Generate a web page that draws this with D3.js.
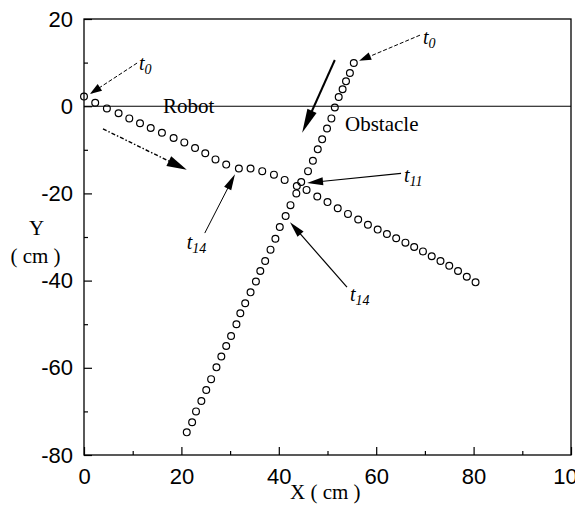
<!DOCTYPE html>
<html>
<head>
<meta charset="utf-8">
<script src="https://cdn.jsdelivr.net/npm/d3@7"></script>
<style>
  html, body { margin: 0; padding: 0; background: #fff; }
  svg { display: block; }
  .tick text { font-family: "Liberation Sans", Arial, sans-serif; font-size: 22px; fill: #000; }
  .serif { font-family: "Liberation Serif", "Times New Roman", serif; fill: #000; }
</style>
</head>
<body>
<svg id="chart" width="575" height="507"></svg>
<script>
// Robot trajectory (cm)
const robotX = [0, 2.3, 4.7, 7.1, 9.3, 11.5, 13.7, 16.0, 18.4, 20.6, 22.8, 24.9, 27.0, 29.2,
  31.8, 34.2, 36.6, 39.0, 41.2, 43.7, 45.7, 47.9, 50.0, 52.1, 54.2, 56.3, 58.3, 60.3, 62.2,
  64.1, 66.0, 67.8, 69.6, 71.4, 73.2, 75.0, 76.8, 78.6, 80.4];
const robotY = [2.2, 0.8, -0.5, -1.6, -2.8, -3.9, -5.0, -6.1, -7.3, -8.3, -9.6, -10.8, -12.2, -13.4,
  -14.3, -14.3, -14.9, -15.7, -16.9, -18.3, -19.2, -20.7, -22.0, -23.4, -24.7, -26.0, -27.2, -28.3, -29.3,
  -30.3, -31.3, -32.3, -33.3, -34.4, -35.5, -36.6, -37.8, -39.1, -40.4];

// Obstacle trajectory (cm)
const obstacleX = [55.4, 54.6, 53.8, 53.1, 52.3, 51.5, 50.8, 49.9, 48.9, 48.0, 47.0, 46.0, 44.6,
  43.6, 42.4, 41.4, 40.2, 39.3, 38.3, 37.2, 36.2, 35.3, 34.2, 33.1, 32.1, 31.3, 30.2, 29.2,
  28.2, 27.2, 26.1, 25.1, 24.1, 23.0, 22.2, 21.1];
const obstacleY = [9.9, 7.6, 5.7, 3.9, 2.1, -0.3, -2.8, -5.1, -7.6, -9.9, -12.5, -14.9, -17.4,
  -20.0, -22.7, -25.2, -27.7, -30.4, -32.9, -35.5, -37.8, -40.2, -42.7, -45.2, -47.5, -50.0, -52.7, -55.0,
  -57.4, -59.9, -62.6, -65.1, -67.6, -70.0, -72.5, -74.8];

// Axis ticks
const xTicks = [0, 20, 40, 60, 80, 100];
const yTicks = [20, 0, -20, -40, -60, -80];
const xMinor = [10, 30, 50, 70, 90];
const yMinor = [10, -10, -30, -50, -70];

const svg = d3.select("#chart");
const x = d3.scaleLinear().domain([0, 100]).range([84, 571]);
const y = d3.scaleLinear().domain([-80, 20]).range([455, 19]);
const plain = d => String(d);

// Axes with inward ticks
svg.append("g").attr("transform", `translate(0,${y(-80)})`)
  .call(d3.axisBottom(x).tickValues(xTicks).tickSize(-8).tickSizeOuter(0).tickPadding(13).tickFormat(plain));
svg.append("g").attr("transform", `translate(0,${y(-80)})`)
  .call(d3.axisBottom(x).tickValues(xMinor).tickSize(-4).tickSizeOuter(0).tickFormat(""));
svg.append("g").attr("transform", `translate(${x(0)},0)`)
  .call(d3.axisLeft(y).tickValues(yTicks).tickSize(-8).tickSizeOuter(0).tickPadding(11).tickFormat(plain));
svg.append("g").attr("transform", `translate(${x(0)},0)`)
  .call(d3.axisLeft(y).tickValues(yMinor).tickSize(-4).tickSizeOuter(0).tickFormat(""));
svg.selectAll(".domain").remove();
svg.selectAll(".tick line").attr("stroke", "#000").attr("stroke-width", 1.2);

// Plot frame
svg.append("rect")
  .attr("x", x(0)).attr("y", y(20))
  .attr("width", x(100) - x(0)).attr("height", y(-80) - y(20))
  .attr("fill", "none").attr("stroke", "#000").attr("stroke-width", 1.3);

// Zero line
svg.append("line")
  .attr("x1", x(0)).attr("x2", x(100)).attr("y1", y(0)).attr("y2", y(0))
  .attr("stroke", "#000").attr("stroke-width", 1.1);

// Trajectory markers
function drawPath(xs, ys) {
  svg.append("g").selectAll("circle").data(xs.map((v, i) => [v, ys[i]])).join("circle")
    .attr("cx", d => x(d[0])).attr("cy", d => y(d[1])).attr("r", 3.4)
    .attr("fill", "none").attr("stroke", "#000").attr("stroke-width", 1.2);
}
drawPath(robotX, robotY);
drawPath(obstacleX, obstacleY);

// Arrow helper: shaft from (x0,y0) to tip (x1,y1), in data units
function arrow(x0, y0, x1, y1, opts) {
  const ax = x(x0), ay = y(y0), bx = x(x1), by = y(y1);
  const len = Math.hypot(bx - ax, by - ay);
  const ux = (bx - ax) / len, uy = (by - ay) / len;
  const hl = opts.head, hw = opts.hw;
  const baseX = bx - ux * hl, baseY = by - uy * hl;
  svg.append("line")
    .attr("x1", ax).attr("y1", ay).attr("x2", baseX + ux * 2).attr("y2", baseY + uy * 2)
    .attr("stroke", "#000").attr("stroke-width", opts.w)
    .attr("stroke-dasharray", opts.dash || null);
  svg.append("path")
    .attr("d", `M${bx},${by}L${baseX - uy * hw / 2},${baseY + ux * hw / 2}L${baseX + uy * hw / 2},${baseY - ux * hw / 2}Z`)
    .attr("fill", "#000");
}

arrow(10.9, 9.9, 1.2, 2.8, { w: 1, head: 12, hw: 8, dash: "4,2" });
arrow(3.9, -5.2, 21.1, -14.6, { w: 1.4, head: 20, hw: 11, dash: "4,2,1.5,2" });
arrow(69.0, 16.3, 56.5, 10.4, { w: 1, head: 12, hw: 8, dash: "4,2" });
arrow(51.5, 10.6, 44.8, -6.1, { w: 2, head: 24, hw: 10 });
arrow(65.1, -15.4, 45.8, -17.6, { w: 1.2, head: 16, hw: 8 });
arrow(24.8, -29.1, 31.0, -15.6, { w: 1, head: 16, hw: 8 });
arrow(54.0, -41.5, 42.3, -26.6, { w: 1.2, head: 16, hw: 8 });

// Time labels
function tLabel(px, py, sub) {
  const t = svg.append("text").attr("class", "serif")
    .attr("x", x(px)).attr("y", y(py))
    .style("font-style", "italic").style("font-size", "20px");
  t.append("tspan").text("t");
  t.append("tspan").attr("dy", 4).style("font-size", "14px").text(sub);
}
tLabel(11.3, 8.3, "0");
tLabel(69.6, 14.3, "0");
tLabel(65.7, -17.3, "11");
tLabel(21.1, -32.8, "14");
tLabel(54.6, -44.7, "14");

// Text labels
svg.append("text").attr("class", "serif").attr("x", x(16.2)).attr("y", y(-1.5))
  .style("font-size", "21px").text("Robot");
svg.append("text").attr("class", "serif").attr("x", x(53.6)).attr("y", y(-5.8))
  .style("font-size", "21px").text("Obstacle");

// Axis titles
svg.append("text").attr("class", "serif").attr("x", 36.5).attr("y", 235)
  .attr("text-anchor", "middle").style("font-size", "21px").text("Y");
svg.append("text").attr("class", "serif").attr("x", 35.5).attr("y", 263)
  .attr("text-anchor", "middle").style("font-size", "21px").text("( cm )");
svg.append("text").attr("class", "serif").attr("x", 290).attr("y", 499)
  .style("font-size", "21px").text("X ( cm )");
</script>
</body>
</html>
